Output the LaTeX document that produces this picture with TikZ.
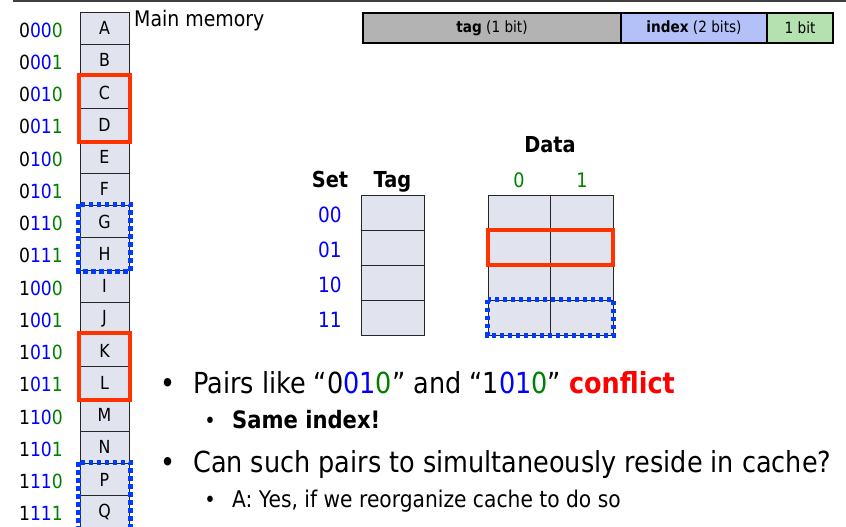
\documentclass[tikz,border=0pt]{standalone}
\usepackage{fontspec}
\setmainfont[FakeStretch=0.88]{DejaVu Sans}
\definecolor{cellfill}{RGB}{225,228,238}
\definecolor{idxblue}{RGB}{0,0,255}
\definecolor{offgreen}{RGB}{0,128,0}
\definecolor{hlred}{RGB}{255,51,0}
\definecolor{hlblue}{RGB}{0,60,255}
\definecolor{barGray}{RGB}{179,179,179}
\definecolor{barBlue}{RGB}{180,192,248}
\definecolor{barGreen}{RGB}{181,224,176}
\newcommand{\fs}[1]{\fontsize{#1}{#1}\selectfont}
\tikzset{
  memcell/.style={draw=black!85, line width=0.9pt, fill=cellfill, minimum width=49pt, minimum height=32.25pt, inner sep=0pt, font=\fs{18}},
  cachecell/.style={draw=black!85, line width=0.9pt, fill=cellfill, minimum height=35pt, inner sep=0pt},
  redbox/.style={draw=hlred, line width=4pt},
  bluedot/.style={draw=hlblue, line width=5pt, dash pattern=on 4.5pt off 3.5pt},
  barseg/.style={draw=black, line width=1.6pt, minimum height=30pt, inner sep=0pt, font=\fs{15.5}},
  addr/.style={anchor=base east, inner sep=0pt, font=\fs{19.5}},
  lbl/.style={anchor=base, inner sep=0pt},
  big/.style={anchor=base west, inner sep=0pt, font=\fs{29}},
  small/.style={anchor=base west, inner sep=0pt, font=\fs{23}}
}
\begin{document}
\begin{tikzpicture}[x=1pt,y=-1pt]
\useasboundingbox (0,0) rectangle (846,527);
\coordinate (tl) at (13,1);
\coordinate (tr) at (846,1);
\draw[line width=1.3pt, black!75] (tl) -- (tr);
% memory
\foreach \l [count=\i from 0] in {A,B,C,D,E,F,G,H,I,J,K,L,M,N,P,Q}
  \node[memcell] (m\i) at (104.5,{12+(\i+0.5)*32.25}) {\l};
\foreach \t/\a/\b [count=\i from 0] in {0/00/0,0/00/1,0/01/0,0/01/1,0/10/0,0/10/1,0/11/0,0/11/1,1/00/0,1/00/1,1/01/0,1/01/1,1/10/0,1/10/1,1/11/0,1/11/1}
  \node[addr] (a\i) at (63,{12+(\i+0.5)*32.25+9}) {\t\textcolor{idxblue}{\a}\textcolor{offgreen}{\b}};
\node[anchor=base west, inner sep=0pt, font=\fs{21.5}] (mm) at (134,27) {Main memory};
\draw[redbox] ([shift={(-1,-1)}]m2.north west) rectangle ([shift={(1,1)}]m3.south east);
\draw[bluedot] ([shift={(-1,-1)}]m6.north west) rectangle ([shift={(1,1)}]m7.south east);
\draw[redbox] ([shift={(-1,-1)}]m10.north west) rectangle ([shift={(1,1)}]m11.south east);
\draw[bluedot] ([shift={(-1,-1)}]m14.north west) rectangle ([shift={(1,1)}]m15.south east);
% address bar
\node[barseg, fill=barGray, minimum width=258pt] (btag) at (492,28) {\textbf{tag} (1 bit)};
\node[barseg, fill=barBlue, minimum width=146pt] (bidx) at (694,28) {\textbf{index} (2 bits)};
\node[barseg, fill=barGreen, minimum width=66pt] (boff) at (800,28) {1 bit};
% cache
\node[lbl, font=\bfseries\fs{22}] (hdata) at (550,152) {Data};
\node[lbl, font=\bfseries\fs{22}] (hset) at (330,187) {Set};
\node[lbl, font=\bfseries\fs{22}] (htag) at (392.5,187) {Tag};
\node[lbl, font=\fs{20}, text=offgreen] (h0) at (519,187) {0};
\node[lbl, font=\fs{20}, text=offgreen] (h1) at (582,187) {1};
\foreach \s [count=\i from 0] in {00,01,10,11}{
  \node[cachecell, minimum width=63pt] (t\i) at (392.5,{212.5+35*\i}) {};
  \node[cachecell, minimum width=62.5pt] (da\i) at (519.25,{212.5+35*\i}) {};
  \node[cachecell, minimum width=62.5pt] (db\i) at (581.75,{212.5+35*\i}) {};
  \node[lbl, font=\fs{21}, text=idxblue] (s\i) at (330,{222+35*\i}) {\s};
}
\draw[redbox] (da1.north west) rectangle (db1.south east);
\draw[bluedot] (da3.north west) rectangle (db3.south east);
% bullets
\node[lbl, font=\fs{29}] (bu1) at (168,393) {•};
\node[big] (tx1) at (193,393) {Pairs like “0\textcolor{idxblue}{01}\textcolor{offgreen}{0}” and “1\textcolor{idxblue}{01}\textcolor{offgreen}{0}” \textcolor{red}{\textbf{conflict}}};
\node[lbl, font=\fs{22}] (bu2) at (210,428) {•};
\node[small, font=\bfseries\fs{24}] (tx2) at (232,428) {Same index!};
\node[lbl, font=\fs{29}] (bu3) at (168,472) {•};
\node[big] (tx3) at (193,472) {Can such pairs to simultaneously reside in cache?};
\node[lbl, font=\fs{22}] (bu4) at (210,507) {•};
\node[small] (tx4) at (232,507) {A: Yes, if we reorganize cache to do so};
\end{tikzpicture}
\end{document}
